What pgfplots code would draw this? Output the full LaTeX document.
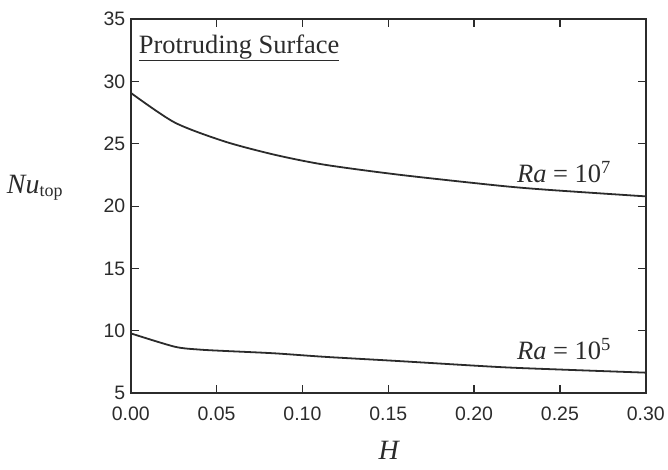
\documentclass[border=0pt]{standalone}
\usepackage{fontspec}
\setmainfont{Liberation Serif}
\newfontfamily\arialfont{Liberation Sans}
\usepackage{pgfplots}
\pgfplotsset{compat=1.18}
\definecolor{ink}{HTML}{2B2B2B}
\begin{document}
\begin{tikzpicture}
\begin{axis}[
  scale only axis,
  width=516pt, height=375pt,
  xmin=0, xmax=0.30, ymin=5, ymax=35,
  xtick={0,0.05,0.10,0.15,0.20,0.25,0.30},
  ytick={5,10,...,35},
  tick align=inside,
  xtick pos=both, ytick pos=both,
  yticklabel pos=left,
  major tick length=8pt,
  axis line style={ink, line width=1.9pt},
  every tick/.style={ink, line width=1.2pt},
  x tick label style={/pgf/number format/fixed, /pgf/number format/fixed zerofill, /pgf/number format/precision=2, yshift=-10pt},
  /pgf/number format/assume math mode=true,
  tick label style={font=\arialfont\fontsize{19.5}{22}\selectfont, text=ink},
  y tick label style={xshift=-2pt},
  clip=false,
]
\addplot[ink, line width=1.8pt, smooth, tension=0.45] coordinates {
(0.000,29.08) (0.0256,26.70) (0.0547,25.18) (0.0837,24.12) (0.1128,23.32)
(0.156,22.52) (0.2145,21.64) (0.2436,21.30) (0.300,20.78)};
\addplot[ink, line width=1.8pt, smooth, tension=0.45] coordinates {
(0.000,9.80) (0.0256,8.73) (0.040,8.50) (0.0547,8.39) (0.0837,8.20) (0.1128,7.92)
(0.156,7.58) (0.2145,7.10) (0.250,6.90) (0.300,6.65)};
\node[anchor=base west, font=\fontsize{26.5}{28}\selectfont, text=ink, inner sep=0pt]
  at (rel axis cs:0.0155,0.909) {\underline{Protruding Surface}};
\node[anchor=base west, font=\fontsize{26.5}{28}\selectfont, text=ink, inner sep=0pt]
  at (axis cs:0.225,21.88) {\textit{Ra} = 10\textsuperscript{7}};
\node[anchor=base west, font=\fontsize{26.5}{28}\selectfont, text=ink, inner sep=0pt]
  at (axis cs:0.225,7.72) {\textit{Ra} = 10\textsuperscript{5}};
\node[anchor=base, font=\fontsize{28}{30}\selectfont, text=ink, inner sep=0pt]
  at (rel axis cs:-0.186,0.535) {\textit{Nu}\textsubscript{\fontsize{18}{19}\selectfont top}};
\node[anchor=base, font=\fontsize{28}{30}\selectfont, text=ink, inner sep=0pt]
  at (rel axis cs:0.502,-0.177) {\textit{H}};
\path (rel axis cs:-0.2539,1.0507) (rel axis cs:1.0407,-0.2027);
\end{axis}
\end{tikzpicture}
\end{document}
